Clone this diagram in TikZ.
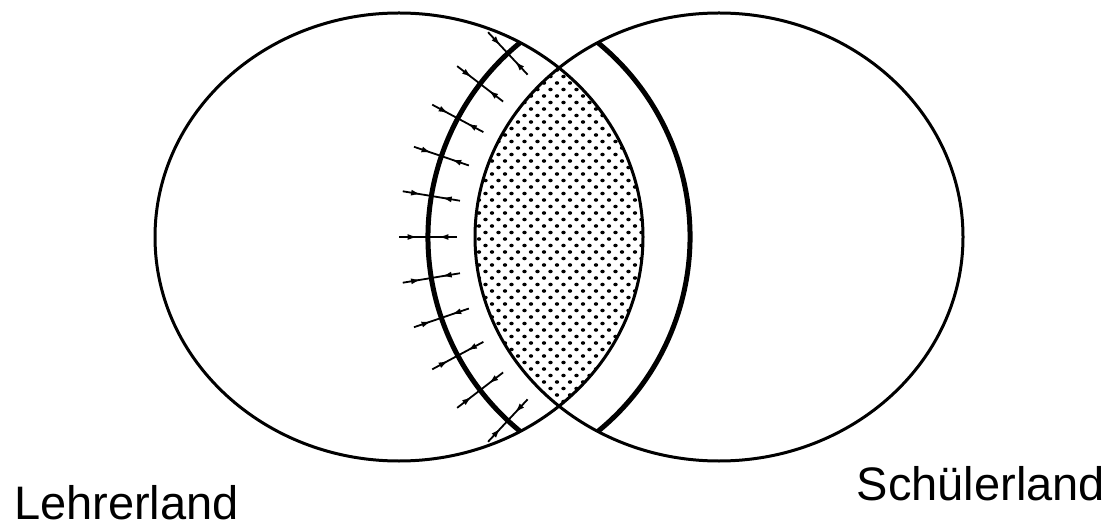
\documentclass[tikz,border=0pt]{standalone}
\usepackage{fontspec}
\setmainfont{Liberation Sans}
\usetikzlibrary{arrows.meta,decorations.markings}
\tikzset{
  land/.style={line width=3pt, draw=black},
  thickarc/.style={line width=5pt, draw=black},
  arrowline/.style={line width=1.8pt, draw=black},
  midarrow/.style={postaction={decorate,decoration={markings,
     mark=at position 0.64 with {\arrow{Latex[length=10pt,width=6pt]}}}}},
  lbl/.style={inner sep=0pt, outer sep=0pt}
}
\begin{document}
\begin{tikzpicture}[x=1pt,y=1pt]
\useasboundingbox (0,0) rectangle (1110,525);
\fill[white] (0,0) rectangle (1110,525);
\coordinate (eL) at (399,288);
\coordinate (eR) at (719,288);
\coordinate (cL) at (679,288);
\coordinate (cR) at (439,288);
% dotted lens
\begin{scope}
  \clip (eL) ellipse [x radius=244, y radius=224];
  \clip (eR) ellipse [x radius=244, y radius=224];
  \foreach \j in {0,...,56}{
    \foreach \i in {0,...,14}{
      \fill ({466+13*\i+6.5*mod(\j,2)}, {468-6.5*\j}) ellipse [x radius=2.2, y radius=1.8];
    }
  }
\end{scope}
% thick arcs
\begin{scope}
  \clip (eL) ellipse [x radius=244, y radius=224];
  \draw[thickarc] ([shift={(118:251)}]cL) arc [start angle=118, end angle=242, radius=251];
\end{scope}
\begin{scope}
  \clip (eR) ellipse [x radius=244, y radius=224];
  \draw[thickarc] ([shift={(-62:251)}]cR) arc [start angle=-62, end angle=62, radius=251];
\end{scope}
% ellipses
\draw[land] (eL) ellipse [x radius=244, y radius=224];
\draw[land] (eR) ellipse [x radius=244, y radius=224];
% arrows
\foreach \k in {-5,...,5}{
  \pgfmathsetmacro\a{180+9.4*\k}
  \draw[arrowline,midarrow] ([shift={(\a:280)}]cL) -- ([shift={(\a:251)}]cL);
  \draw[arrowline,midarrow] ([shift={(\a:222)}]cL) -- ([shift={(\a:251)}]cL);
}
% labels
\node[lbl, anchor=base west, font=\fontsize{47}{56}\selectfont] (lehrer) at (14,6) {Lehrerland};
\node[lbl, anchor=base east, font=\fontsize{47}{56}\selectfont] (schueler) at (1105,25) {Schülerland};
\end{tikzpicture}
\end{document}
